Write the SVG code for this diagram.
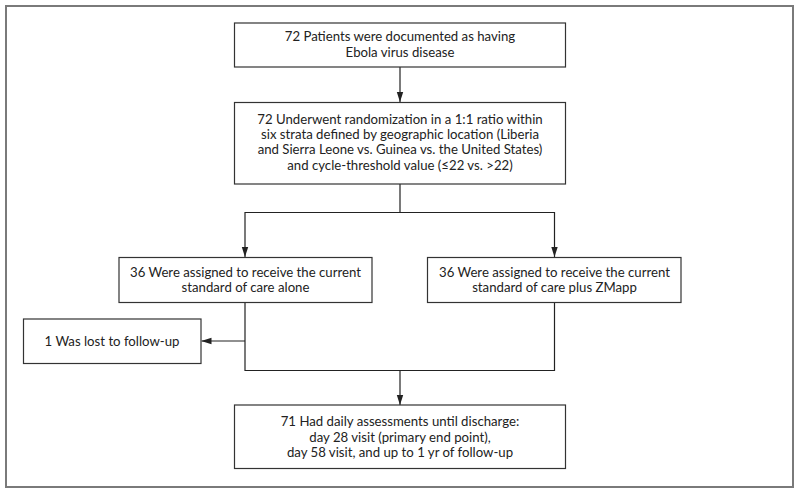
<svg xmlns="http://www.w3.org/2000/svg" width="800" height="493" viewBox="0 0 800 493">
<defs>
<style>
.frame{fill:#fff;stroke:#7a7a7a;stroke-width:2}
.box{fill:#fff;stroke:#333;stroke-width:1.2}
.t{font-family:Lato,"Open Sans","Liberation Sans",sans-serif;font-size:13.2px;fill:#222;text-anchor:middle}
.ln{fill:none;stroke:#222;stroke-width:1.2}
</style>
<marker id="ah" viewBox="0 0 10 10" refX="10" refY="5" markerWidth="10" markerHeight="10" markerUnits="userSpaceOnUse" orient="auto">
<path d="M0,1.8 L10,5 L0,8.2 Z" fill="#222"/>
</marker>
</defs>
<rect width="800" height="493" fill="#fff"/>
<rect class="frame" x="6" y="6" width="787" height="481"/>
<g id="connectors">
<path class="ln" d="M400,67 V102" marker-end="url(#ah)"/>
<path class="ln" d="M400,184 V212.5 H245 V257" marker-end="url(#ah)"/>
<path class="ln" d="M400,212.5 H554.5 V257" marker-end="url(#ah)"/>
<path class="ln" d="M245,341 H201.5" marker-end="url(#ah)"/>
<path class="ln" d="M245,302 V370.5 H554.5 V302"/>
<path class="ln" d="M400,370.5 V405" marker-end="url(#ah)"/>
</g>
<g id="n1">
<rect class="box" x="234.5" y="23" width="331" height="44"/>
<text class="t" x="400" y="41">72 Patients were documented as having</text>
<text class="t" x="400" y="57">Ebola virus disease</text>
</g>
<g id="n2">
<rect class="box" x="234.5" y="102.5" width="331" height="81.5"/>
<text class="t" x="400" y="123.5">72 Underwent randomization in a 1:1 ratio within</text>
<text class="t" x="400" y="139">six strata defined by geographic location (Liberia</text>
<text class="t" x="400" y="154">and Sierra Leone vs. Guinea vs. the United States)</text>
<text class="t" x="400" y="169.5">and cycle-threshold value (≤22 vs. &gt;22)</text>
</g>
<g id="n3">
<rect class="box" x="119" y="257.5" width="253" height="45"/>
<text class="t" x="245.5" y="276.5">36 Were assigned to receive the current</text>
<text class="t" x="245.5" y="292">standard of care alone</text>
</g>
<g id="n4">
<rect class="box" x="427.5" y="257.5" width="253.5" height="45"/>
<text class="t" x="554.5" y="276.5">36 Were assigned to receive the current</text>
<text class="t" x="554.5" y="292">standard of care plus ZMapp</text>
</g>
<g id="n5">
<rect class="box" x="23.5" y="319" width="177.5" height="44.5"/>
<text class="t" x="112" y="345.5">1 Was lost to follow-up</text>
</g>
<g id="n6">
<rect class="box" x="234.5" y="405" width="331" height="63.5"/>
<text class="t" x="400" y="426">71 Had daily assessments until discharge:</text>
<text class="t" x="400" y="441.5">day 28 visit (primary end point),</text>
<text class="t" x="400" y="457">day 58 visit, and up to 1 yr of follow-up</text>
</g>
</svg>
